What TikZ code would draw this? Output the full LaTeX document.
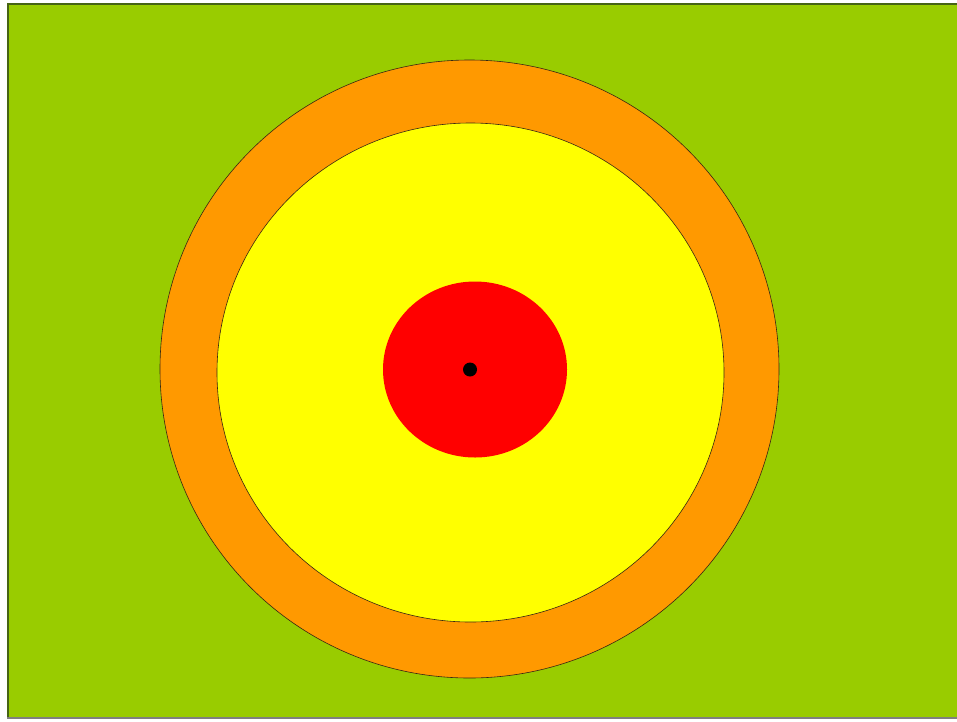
\documentclass[tikz,border=0pt]{standalone}
\usepackage{tikz}
\definecolor{fieldgreen}{RGB}{153,204,0}
\definecolor{ringorange}{RGB}{255,153,0}
\definecolor{zoneyellow}{RGB}{255,255,0}
\definecolor{corered}{RGB}{255,0,0}
\definecolor{edgegreen}{RGB}{70,100,20}

\begin{document}
\begin{tikzpicture}[
    x=1pt, y=-1pt,
    zone/.style={draw=black!70!brown, line width=0.6pt}
]
\useasboundingbox (0,0) rectangle (957,721);
% background field
\fill[fieldgreen] (7,3) rectangle (957,718);
\draw[edgegreen, line width=2pt] (8,718) -- (8,4) -- (957,4);
\draw[gray, line width=1.5pt] (7,718) -- (957,718);
% rings around the centre
\coordinate (centre) at (470,369.5);
\filldraw[zone, fill=ringorange] (469.5,369) ellipse [x radius=309.5, y radius=309];
\filldraw[zone, fill=zoneyellow] (470.5,372.5) ellipse [x radius=253.5, y radius=249.5];
\fill[corered] (475,369.5) ellipse [x radius=92, y radius=88];
\fill[black] (centre) circle [radius=7];
\end{tikzpicture}
\end{document}
